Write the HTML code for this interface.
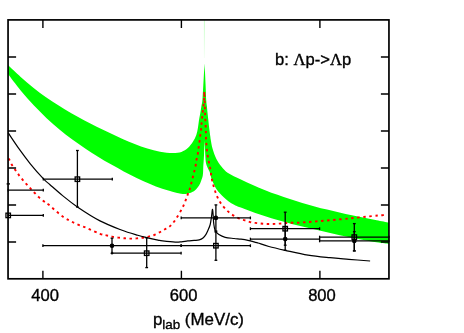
<!DOCTYPE html>
<html><head><meta charset="utf-8"><title>plot</title>
<style>html,body{margin:0;padding:0;background:#fff;}svg{display:block;}</style>
</head><body>
<svg width="464" height="333" viewBox="0 0 464 333">
<rect width="464" height="333" fill="#fff"/>
<path d="M8.00,65.12 C10.11,67.10 16.45,73.24 20.67,76.99 C24.89,80.75 29.12,84.29 33.34,87.64 C37.56,91.00 41.78,94.14 46.01,97.13 C50.23,100.12 54.45,102.91 58.68,105.58 C62.90,108.26 67.12,110.77 71.35,113.20 C75.57,115.64 79.79,117.93 84.02,120.18 C88.24,122.43 92.46,124.58 96.68,126.69 C100.91,128.80 105.13,130.84 109.35,132.84 C113.58,134.83 117.80,136.78 122.02,138.64 C126.25,140.49 130.47,142.32 134.69,143.96 C138.92,145.61 143.14,147.21 147.36,148.52 C151.58,149.82 155.81,151.04 160.03,151.80 C164.25,152.55 169.12,153.02 172.70,153.04 C176.28,153.06 178.98,152.72 181.50,151.90 C184.02,151.08 185.90,149.78 187.80,148.10 C189.70,146.42 191.48,143.98 192.90,141.80 C194.32,139.62 195.47,137.30 196.30,135.00 C197.13,132.70 197.47,130.37 197.90,128.00 C198.33,125.63 198.48,123.37 198.90,120.80 C199.32,118.23 199.98,115.02 200.40,112.60 C200.82,110.18 201.07,108.40 201.40,106.30 C201.73,104.20 202.08,103.52 202.40,100.00 C202.72,96.48 203.03,89.77 203.30,85.20 C203.57,80.63 203.82,76.22 204.00,72.60 C204.18,68.98 204.33,65.02 204.40,63.50 C204.50,65.02 204.80,68.98 205.00,72.60 C205.20,76.22 205.40,80.63 205.60,85.20 C205.80,89.77 205.98,96.48 206.20,100.00 C206.42,103.52 206.68,104.20 206.90,106.30 C207.12,108.40 207.25,110.18 207.50,112.60 C207.75,115.02 208.10,118.07 208.40,120.80 C208.70,123.53 208.98,126.37 209.30,129.00 C209.62,131.63 210.05,134.77 210.30,136.60 C210.55,138.43 210.42,137.97 210.80,140.00 C211.18,142.03 211.67,145.65 212.60,148.80 C213.53,151.95 214.93,155.95 216.40,158.90 C217.87,161.85 219.47,164.15 221.40,166.50 C223.33,168.85 224.84,170.84 228.00,172.97 C231.16,175.10 236.26,177.27 240.38,179.27 C244.51,181.28 248.64,183.17 252.77,184.99 C256.90,186.80 261.03,188.52 265.15,190.16 C269.28,191.80 273.41,193.35 277.54,194.84 C281.67,196.33 285.79,197.73 289.92,199.07 C294.05,200.42 298.18,201.69 302.31,202.91 C306.44,204.13 310.56,205.28 314.69,206.39 C318.82,207.51 322.95,208.56 327.08,209.58 C331.21,210.59 335.33,211.56 339.46,212.50 C343.59,213.45 347.72,214.34 351.85,215.23 C355.97,216.11 360.10,216.95 364.23,217.79 C368.36,218.62 372.49,219.43 376.62,220.24 C380.74,221.05 386.94,222.24 389.00,222.64 L389,243.9 C387.22,243.74 381.87,243.06 378.31,242.51 C374.74,241.97 371.18,241.35 367.62,240.70 C364.05,240.06 360.49,239.37 356.92,238.66 C353.36,237.95 349.79,237.20 346.23,236.45 C342.67,235.69 339.10,234.92 335.54,234.13 C331.97,233.35 328.41,232.55 324.85,231.75 C321.28,230.94 317.72,230.13 314.15,229.30 C310.59,228.47 307.03,227.63 303.46,226.77 C299.90,225.91 296.33,225.04 292.77,224.13 C289.21,223.22 285.64,222.29 282.08,221.31 C278.51,220.33 274.95,219.33 271.38,218.25 C267.82,217.16 264.26,216.04 260.69,214.82 C257.13,213.60 253.45,212.17 250.00,210.91 C246.55,209.66 242.65,208.34 240.00,207.30 C237.35,206.26 235.98,205.67 234.10,204.70 C232.22,203.73 230.38,202.68 228.70,201.50 C227.02,200.32 225.45,198.92 224.00,197.60 C222.55,196.28 221.22,194.93 220.00,193.60 C218.78,192.27 217.58,190.87 216.70,189.60 C215.82,188.33 215.28,187.13 214.70,186.00 C214.12,184.87 213.68,183.83 213.20,182.80 C212.72,181.77 212.21,180.95 211.80,179.80 C211.39,178.65 211.10,177.20 210.75,175.90 C210.40,174.60 210.12,173.15 209.70,172.00 C209.27,170.85 208.67,170.00 208.20,169.00 C207.73,168.00 207.30,167.17 206.90,166.00 C206.50,164.83 206.07,163.75 205.80,162.00 C205.53,160.25 205.45,157.88 205.30,155.50 C205.15,153.12 205.02,150.17 204.90,147.70 C204.78,145.23 204.65,141.87 204.60,140.70 C204.54,141.87 204.35,145.23 204.25,147.70 C204.15,150.17 204.11,153.12 204.00,155.50 C203.89,157.88 203.72,160.08 203.60,162.00 C203.47,163.92 203.33,165.33 203.25,167.00 C203.17,168.67 203.19,170.52 203.10,172.00 C203.01,173.48 202.97,174.60 202.70,175.90 C202.43,177.20 201.95,178.50 201.50,179.80 C201.05,181.10 200.65,182.40 200.00,183.70 C199.35,185.00 198.52,186.42 197.60,187.60 C196.68,188.78 195.80,189.83 194.50,190.75 C193.20,191.67 191.23,192.57 189.80,193.10 C188.37,193.62 187.37,193.80 185.90,193.90 C184.43,194.00 182.78,193.94 181.00,193.70 C179.22,193.46 178.31,193.26 175.20,192.45 C172.09,191.64 166.63,190.27 162.34,188.84 C158.05,187.41 153.76,185.68 149.48,183.87 C145.19,182.05 140.90,180.04 136.62,177.96 C132.33,175.88 128.04,173.66 123.75,171.38 C119.47,169.10 115.18,166.73 110.89,164.28 C106.61,161.82 102.32,159.30 98.03,156.65 C93.74,154.01 89.46,151.30 85.17,148.42 C80.88,145.55 76.59,142.58 72.31,139.41 C68.02,136.25 63.73,132.95 59.45,129.41 C55.16,125.86 50.87,122.15 46.58,118.13 C42.30,114.11 38.01,109.89 33.72,105.31 C29.44,100.73 25.15,95.90 20.86,90.67 C16.57,85.45 10.14,76.75 8.00,73.96 Z" fill="#00ff00" stroke="none"/>
<defs><linearGradient id="fg" x1="0" y1="0" x2="0" y2="1"><stop offset="0" stop-color="#00ff00" stop-opacity="0.22"/><stop offset="1" stop-color="#00ff00" stop-opacity="0.04"/></linearGradient></defs>
<rect x="203.9" y="20" width="1" height="38" fill="url(#fg)"/>
<path d="M8.50,158.50 C8.67,158.75 8.92,158.92 9.50,160.00 C10.08,161.08 11.02,163.32 12.00,165.00 C12.98,166.68 14.25,168.42 15.40,170.10 C16.55,171.78 17.68,173.48 18.90,175.10 C20.12,176.72 21.43,178.28 22.70,179.80 C23.97,181.32 25.18,182.73 26.50,184.20 C27.82,185.67 29.23,187.13 30.60,188.60 C31.97,190.07 33.28,191.53 34.70,193.00 C36.12,194.47 37.58,196.03 39.10,197.40 C40.62,198.77 42.23,200.00 43.80,201.20 C45.37,202.40 45.30,202.02 48.50,204.60 C51.70,207.18 58.48,213.55 63.00,216.70 C67.52,219.85 71.40,221.52 75.60,223.50 C79.80,225.48 84.13,226.88 88.20,228.60 C92.27,230.32 96.98,232.68 100.00,233.80 C103.02,234.92 104.30,234.83 106.30,235.30 C108.30,235.77 110.00,236.22 112.00,236.60 C114.00,236.98 116.20,237.32 118.30,237.60 C120.40,237.88 122.60,238.13 124.60,238.30 C126.60,238.47 128.30,238.58 130.30,238.60 C132.30,238.62 134.62,238.53 136.60,238.40 C138.58,238.27 140.20,238.10 142.20,237.80 C144.20,237.50 146.60,237.07 148.60,236.60 C150.60,236.13 152.38,235.72 154.20,235.00 C156.02,234.28 157.78,233.22 159.50,232.30 C161.22,231.38 162.83,230.45 164.50,229.50 C166.17,228.55 167.65,228.27 169.50,226.60 C171.35,224.93 173.30,222.93 175.60,219.50 C177.90,216.07 181.18,210.43 183.30,206.00 C185.42,201.57 187.23,195.68 188.30,192.90 C189.37,190.12 188.87,192.25 189.70,189.30 C190.53,186.35 192.33,179.05 193.30,175.20 C194.27,171.35 194.98,168.68 195.50,166.20 C196.02,163.72 196.03,162.27 196.40,160.30 C196.77,158.33 197.35,156.38 197.70,154.40 C198.05,152.42 198.22,150.40 198.50,148.40 C198.78,146.40 199.13,144.35 199.40,142.40 C199.67,140.45 199.83,138.70 200.10,136.70 C200.37,134.70 200.77,132.52 201.00,130.40 C201.23,128.28 201.22,126.97 201.50,124.00 C201.78,121.03 202.28,116.50 202.70,112.60 C203.12,108.70 203.73,104.12 204.00,100.60 C204.27,97.08 204.25,93.02 204.30,91.50 C204.38,93.65 204.65,100.25 204.80,104.40 C204.95,108.55 205.03,112.35 205.20,116.40 C205.37,120.45 205.68,125.67 205.80,128.70 C205.92,131.73 205.85,132.63 205.90,134.60 C205.95,136.57 205.98,138.55 206.10,140.50 C206.22,142.45 206.42,144.28 206.60,146.30 C206.78,148.32 206.93,150.55 207.20,152.60 C207.47,154.65 207.83,156.60 208.20,158.60 C208.57,160.60 209.02,162.65 209.40,164.60 C209.78,166.55 210.17,168.35 210.50,170.30 C210.83,172.25 211.08,174.43 211.40,176.30 C211.72,178.17 211.95,179.57 212.40,181.50 C212.85,183.43 213.48,185.83 214.10,187.90 C214.72,189.97 215.38,192.02 216.10,193.90 C216.82,195.78 217.53,197.52 218.40,199.20 C219.27,200.88 220.17,202.42 221.30,204.00 C222.43,205.58 223.82,207.23 225.20,208.70 C226.58,210.17 228.05,211.57 229.60,212.80 C231.15,214.03 232.70,215.05 234.50,216.10 C236.30,217.15 238.47,218.33 240.40,219.10 C242.33,219.87 244.28,220.17 246.10,220.70 C247.92,221.23 249.40,221.88 251.30,222.30 C253.20,222.72 255.45,222.95 257.50,223.20 C259.55,223.45 261.57,223.67 263.60,223.80 C265.63,223.93 267.65,224.00 269.70,224.00 C271.75,224.00 273.88,223.90 275.90,223.80 C277.92,223.70 279.82,223.55 281.80,223.40 C283.78,223.25 284.77,223.03 287.80,222.90 C290.83,222.77 295.97,222.80 300.00,222.60 C304.03,222.40 308.00,222.02 312.00,221.70 C316.00,221.38 320.02,221.03 324.00,220.70 C327.98,220.37 331.92,220.05 335.90,219.70 C339.88,219.35 345.02,218.88 347.90,218.60 C350.78,218.32 350.20,218.32 353.20,218.00 C356.20,217.68 361.80,217.12 365.90,216.70 C370.00,216.28 374.87,215.77 377.80,215.50 C380.73,215.23 382.20,215.20 383.50,215.10 C384.80,215.00 385.25,214.93 385.60,214.90" fill="none" stroke="#ff0000" stroke-width="1.9" stroke-dasharray="2.5,3.55"/>
<path d="M8.20,132.90 C9.98,135.53 15.22,143.55 18.90,148.70 C22.58,153.85 26.20,158.77 30.30,163.80 C34.40,168.83 40.22,175.42 43.50,178.90 C46.78,182.38 46.82,181.92 50.00,184.70 C53.18,187.48 58.03,191.88 62.60,195.60 C67.17,199.32 71.17,202.78 77.40,207.00 C83.63,211.22 92.67,217.07 100.00,220.90 C107.33,224.73 115.10,227.60 121.40,230.00 C127.70,232.40 133.58,234.03 137.80,235.30 C142.02,236.57 143.33,236.80 146.70,237.60 C150.07,238.40 155.35,239.55 158.00,240.10 C160.65,240.65 159.73,240.57 162.60,240.90 C165.47,241.23 172.05,241.95 175.20,242.10 C178.35,242.25 179.40,242.00 181.50,241.80 C183.60,241.60 185.70,241.13 187.80,240.90 C189.90,240.67 192.20,240.57 194.10,240.40 C196.00,240.23 197.72,240.30 199.20,239.90 C200.68,239.50 201.87,238.93 203.00,238.00 C204.13,237.07 205.17,235.58 206.00,234.30 C206.83,233.02 207.30,231.93 208.00,230.30 C208.70,228.67 209.60,226.88 210.20,224.50 C210.80,222.12 211.23,218.53 211.60,216.00 C211.97,213.47 212.15,209.57 212.40,209.30 C212.65,209.03 212.88,212.08 213.10,214.40 C213.32,216.72 213.35,220.47 213.70,223.20 C214.05,225.93 214.33,228.92 215.20,230.80 C216.07,232.68 217.23,233.42 218.90,234.50 C220.57,235.58 222.67,236.63 225.20,237.30 C227.73,237.97 231.47,238.18 234.10,238.50 C236.73,238.82 238.68,238.90 241.00,239.20 C243.32,239.50 245.83,239.87 248.00,240.30 C250.17,240.73 252.33,241.35 254.00,241.80 C255.67,242.25 255.52,242.22 258.00,243.00 C260.48,243.78 264.38,245.28 268.90,246.50 C273.42,247.72 278.58,248.87 285.10,250.30 C291.62,251.73 300.52,253.87 308.00,255.10 C315.48,256.33 323.18,257.00 330.00,257.70 C336.82,258.40 342.22,258.75 348.90,259.30 C355.58,259.85 366.57,260.72 370.10,261.00" fill="none" stroke="#000" stroke-width="1.2"/>
<g stroke="#000" stroke-width="1.3" fill="none">
<line x1="8.2" y1="215.4" x2="43.3" y2="215.4"/><line x1="8.2" y1="214.0" x2="8.2" y2="216.8"/><line x1="43.3" y1="214.0" x2="43.3" y2="216.8"/><rect x="5.95" y="213.15" width="4.5" height="4.5" fill="none"/>
<line x1="8.2" y1="190.2" x2="43.3" y2="190.2"/><line x1="8.2" y1="188.8" x2="8.2" y2="191.6"/><line x1="43.3" y1="188.8" x2="43.3" y2="191.6"/>
<line x1="43.3" y1="179.2" x2="112.3" y2="179.2"/><line x1="43.3" y1="177.8" x2="43.3" y2="180.6"/><line x1="112.3" y1="177.8" x2="112.3" y2="180.6"/><line x1="77.4" y1="150.5" x2="77.4" y2="207.0"/><line x1="76.0" y1="150.5" x2="78.8" y2="150.5"/><line x1="76.0" y1="207.0" x2="78.8" y2="207.0"/><rect x="75.15" y="176.95" width="4.5" height="4.5" fill="none"/>
<line x1="42.9" y1="245.7" x2="181.1" y2="245.7"/><line x1="42.9" y1="244.3" x2="42.9" y2="247.1"/><line x1="181.1" y1="244.3" x2="181.1" y2="247.1"/><line x1="112.0" y1="238.2" x2="112.0" y2="253.3"/><line x1="110.6" y1="238.2" x2="113.4" y2="238.2"/><line x1="110.6" y1="253.3" x2="113.4" y2="253.3"/><circle cx="112.0" cy="245.7" r="2.3" fill="#000" stroke="none"/>
<line x1="112.0" y1="253.2" x2="181.1" y2="253.2"/><line x1="112.0" y1="251.8" x2="112.0" y2="254.6"/><line x1="181.1" y1="251.8" x2="181.1" y2="254.6"/><line x1="146.7" y1="237.8" x2="146.7" y2="267.6"/><line x1="145.3" y1="237.8" x2="148.1" y2="237.8"/><line x1="145.3" y1="267.6" x2="148.1" y2="267.6"/><rect x="144.45" y="250.95" width="4.5" height="4.5" fill="none"/>
<line x1="181.2" y1="217.9" x2="250.4" y2="217.9"/><line x1="181.2" y1="216.5" x2="181.2" y2="219.3"/><line x1="250.4" y1="216.5" x2="250.4" y2="219.3"/><line x1="215.9" y1="204.9" x2="215.9" y2="232.0"/><line x1="214.5" y1="204.9" x2="217.3" y2="204.9"/><line x1="214.5" y1="232.0" x2="217.3" y2="232.0"/><circle cx="215.9" cy="217.9" r="2.3" fill="#000" stroke="none"/>
<line x1="181.2" y1="245.7" x2="250.4" y2="245.7"/><line x1="181.2" y1="244.3" x2="181.2" y2="247.1"/><line x1="250.4" y1="244.3" x2="250.4" y2="247.1"/><line x1="215.9" y1="231.0" x2="215.9" y2="260.3"/><line x1="214.5" y1="231.0" x2="217.3" y2="231.0"/><line x1="214.5" y1="260.3" x2="217.3" y2="260.3"/><rect x="213.65" y="243.45" width="4.5" height="4.5" fill="none"/>
<line x1="250.4" y1="228.7" x2="319.6" y2="228.7"/><line x1="250.4" y1="227.3" x2="250.4" y2="230.1"/><line x1="319.6" y1="227.3" x2="319.6" y2="230.1"/><line x1="285.2" y1="212.2" x2="285.2" y2="245.2"/><line x1="283.8" y1="212.2" x2="286.6" y2="212.2"/><line x1="283.8" y1="245.2" x2="286.6" y2="245.2"/><rect x="282.95" y="226.45" width="4.5" height="4.5" fill="none"/>
<line x1="250.4" y1="239.1" x2="319.6" y2="239.1"/><line x1="250.4" y1="237.7" x2="250.4" y2="240.5"/><line x1="319.6" y1="237.7" x2="319.6" y2="240.5"/><line x1="285.2" y1="228.0" x2="285.2" y2="250.3"/><line x1="283.8" y1="228.0" x2="286.6" y2="228.0"/><line x1="283.8" y1="250.3" x2="286.6" y2="250.3"/><circle cx="285.2" cy="239.1" r="2.3" fill="#000" stroke="none"/>
<line x1="319.6" y1="237.1" x2="389.0" y2="237.1"/><line x1="319.6" y1="235.7" x2="319.6" y2="238.5"/><line x1="389.0" y1="235.7" x2="389.0" y2="238.5"/><line x1="354.3" y1="223.6" x2="354.3" y2="250.9"/><line x1="352.9" y1="223.6" x2="355.7" y2="223.6"/><line x1="352.9" y1="250.9" x2="355.7" y2="250.9"/><rect x="352.05" y="234.85" width="4.5" height="4.5" fill="none"/>
<line x1="319.6" y1="240.9" x2="389.0" y2="240.9"/><line x1="319.6" y1="239.5" x2="319.6" y2="242.3"/><line x1="389.0" y1="239.5" x2="389.0" y2="242.3"/><line x1="354.3" y1="231.6" x2="354.3" y2="250.9"/><line x1="352.9" y1="231.6" x2="355.7" y2="231.6"/><line x1="352.9" y1="250.9" x2="355.7" y2="250.9"/><circle cx="354.3" cy="240.9" r="2.3" fill="#000" stroke="none"/>
<line x1="6.6" y1="183.9" x2="10" y2="183.9"/>
</g>
<rect x="8.05" y="19.9" width="380.9" height="258.9" fill="none" stroke="#000" stroke-width="1.7"/>
<path d="M8,57.05 H16.1 M389,57.05 H380.9 M8,94.05 H16.1 M389,94.05 H380.9 M8,131.05 H16.1 M389,131.05 H380.9 M8,168.05 H16.1 M389,168.05 H380.9 M8,205.05 H16.1 M389,205.05 H380.9 M8,242.05 H16.1 M389,242.05 H380.9 M42.9,19.9 V28 M42.9,278.8 V270.8 M181.4,19.9 V28 M181.4,278.8 V270.8 M319.9,19.9 V28 M319.9,278.8 V270.8 " stroke="#000" stroke-width="1.4" fill="none"/>
<g font-family="Liberation Sans, sans-serif" fill="#000" stroke="#000" stroke-width="0.35" style="filter:grayscale(1)">
<text x="45.1" y="301.2" font-size="17" text-anchor="middle" textLength="27.7" lengthAdjust="spacingAndGlyphs">400</text>
<text x="183.6" y="301.2" font-size="17" text-anchor="middle" textLength="27.7" lengthAdjust="spacingAndGlyphs">600</text>
<text x="322.0" y="301.2" font-size="17" text-anchor="middle" textLength="27.7" lengthAdjust="spacingAndGlyphs">800</text>
<text x="152.9" y="325.2" font-size="16.9">p<tspan font-size="13.4" dy="3.9">lab</tspan><tspan dy="-3.9"> (MeV/c)</tspan></text>
<text x="275" y="65.1" font-size="16.6">b: <tspan font-family="Liberation Serif, serif">Λ</tspan>p-&gt;<tspan font-family="Liberation Serif, serif">Λ</tspan>p</text>
</g>
</svg>
</body></html>
